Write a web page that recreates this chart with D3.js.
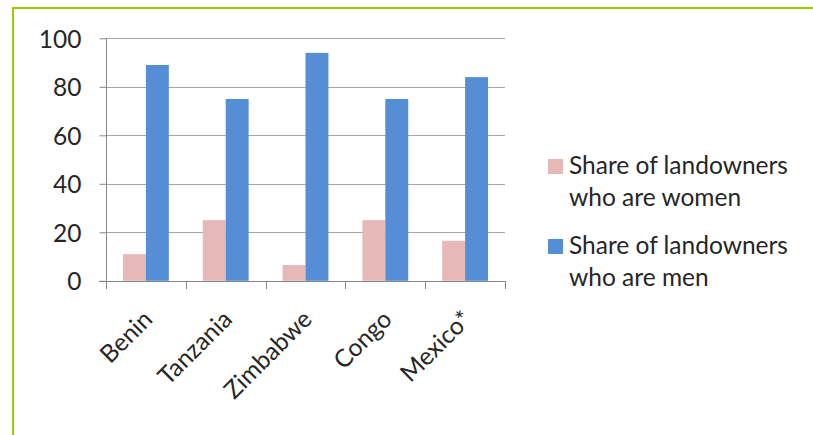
<!DOCTYPE html>
<html>
<head>
<meta charset="utf-8">
<script src="https://cdn.jsdelivr.net/npm/d3@7/dist/d3.min.js"></script>
<style>
  body { margin: 0; background: #fff; }
  text { font-family: Lato, "Open Sans", sans-serif; fill: #262626; }
</style>
</head>
<body>
<svg id="chart" width="813" height="435"></svg>
<script>
// data
const countries = ['Benin', 'Tanzania', 'Zimbabwe', 'Congo', 'Mexico*'];
const womenShare = [11, 25, 6.5, 25, 16.5];
const menShare = [89, 75, 94, 75, 84];
const seriesKeys = ['women', 'men'];
const legendLines = [
  ['Share of landowners', 'who are women'],
  ['Share of landowners', 'who are men']
];
const yTicks = [0, 20, 40, 60, 80, 100];

const colors = { women: '#e6b9b8', men: '#558ed5' };
const fontSize = '24.5px';

const svg = d3.select('#chart');

// green frame, top and left edges only
svg.append('line').attr('x1', 12).attr('x2', 813).attr('y1', 8).attr('y2', 8)
  .attr('stroke', '#99cc00').attr('stroke-width', 2);
svg.append('line').attr('x1', 13).attr('x2', 13).attr('y1', 7).attr('y2', 435)
  .attr('stroke', '#99cc00').attr('stroke-width', 2);

const plot = { left: 106, right: 505, top: 38.3, bottom: 280.8 };

const y = d3.scaleLinear().domain([0, 100]).range([plot.bottom, plot.top]);
const x0 = d3.scaleBand().domain(countries).range([plot.left, plot.right]);
const x1 = d3.scaleBand().domain(seriesKeys).range([0, x0.bandwidth()]).paddingOuter(0.74);

const rows = countries.map((c, i) => ({ country: c, women: womenShare[i], men: menShare[i] }));

// gridlines
svg.append('g')
  .selectAll('line')
  .data(yTicks.filter(d => d > 0))
  .enter()
  .append('line')
  .attr('x1', plot.left)
  .attr('x2', plot.right)
  .attr('y1', d => Math.round(y(d)) + 0.5)
  .attr('y2', d => Math.round(y(d)) + 0.5)
  .attr('stroke', '#a6a6a6')
  .attr('stroke-width', 1);

// bars
svg.append('g')
  .selectAll('g')
  .data(rows)
  .enter()
  .append('g')
  .attr('transform', d => 'translate(' + x0(d.country) + ',0)')
  .selectAll('rect')
  .data(d => seriesKeys.map(k => ({ key: k, value: d[k] })))
  .enter()
  .append('rect')
  .attr('x', d => x1(d.key))
  .attr('width', x1.bandwidth())
  .attr('y', d => y(d.value))
  .attr('height', d => y(0) - y(d.value))
  .attr('fill', d => colors[d.key]);

// y axis
const yAxis = svg.append('g')
  .attr('transform', 'translate(' + (plot.left + 0.5) + ',0)')
  .call(d3.axisLeft(y).tickValues(yTicks).tickSize(7).tickPadding(18).tickFormat(d3.format('d')));
yAxis.select('.domain').attr('stroke', '#868686').attr('d', 'M0,' + y(100) + 'V' + y(0));
yAxis.selectAll('.tick line').attr('stroke', '#868686');
yAxis.selectAll('.tick text').style('font-size', fontSize).attr('dy', '0.36em');

// x axis line and category boundary ticks
const xg = svg.append('g');
xg.append('line')
  .attr('x1', plot.left - 7).attr('x2', plot.right)
  .attr('y1', Math.round(y(0)) + 0.5).attr('y2', Math.round(y(0)) + 0.5)
  .attr('stroke', '#868686');
xg.selectAll('line.bound')
  .data(countries.map(c => x0(c)).concat([plot.right]))
  .enter()
  .append('line')
  .attr('class', 'bound')
  .attr('x1', d => Math.round(d) + 0.5)
  .attr('x2', d => Math.round(d) + 0.5)
  .attr('y1', Math.round(y(0)))
  .attr('y2', Math.round(y(0)) + 8)
  .attr('stroke', '#868686');

// rotated category labels
xg.selectAll('text')
  .data(countries)
  .enter()
  .append('text')
  .attr('text-anchor', 'end')
  .style('font-size', fontSize)
  .attr('transform', d => 'translate(' + (x0(d) + x0.bandwidth() / 2 + 8) + ',' + (plot.bottom + 40) + ') rotate(-45)')
  .text(d => d);

// legend
const legend = svg.append('g')
  .selectAll('g')
  .data(seriesKeys)
  .enter()
  .append('g')
  .attr('transform', (d, i) => 'translate(548,' + (159 + i * 80) + ')');

legend.append('rect')
  .attr('width', 15)
  .attr('height', 15)
  .attr('fill', d => colors[d]);

legend.selectAll('text')
  .data((d, i) => legendLines[i])
  .enter()
  .append('text')
  .attr('x', 21)
  .attr('y', (d, j) => 15 + j * 32)
  .style('font-size', fontSize)
  .text(d => d);
</script>
</body>
</html>
